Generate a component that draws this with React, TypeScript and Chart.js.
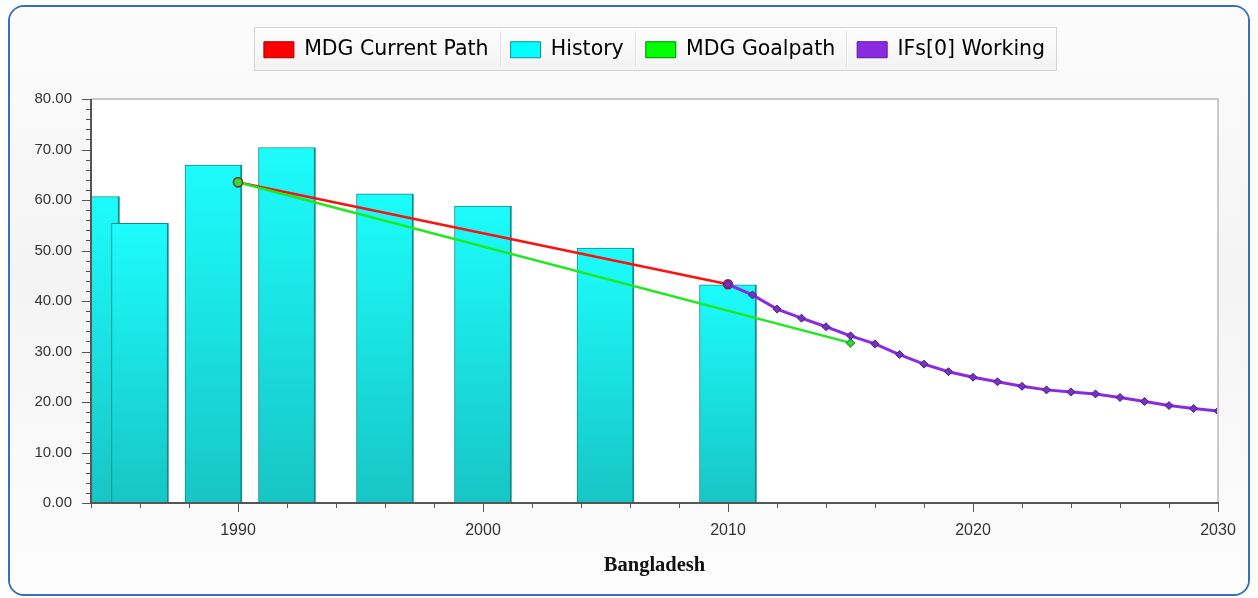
import React, { useEffect, useRef } from 'react';
import { Chart, registerables } from 'chart.js';

Chart.register(...registerables);

// ---- Data ----
const seriesLabels = ['MDG Current Path', 'History', 'MDG Goalpath', 'IFs[0] Working'];

const historyYears = [1984, 1986, 1989, 1992, 1996, 2000, 2005, 2010];
const historyValues = [60.7, 55.4, 66.9, 70.4, 61.2, 58.8, 50.5, 43.2];

const currentPathYears = [1990, 2010];
const currentPathValues = [63.5, 43.3];

const goalPathYears = [1990, 2015];
const goalPathValues = [63.5, 31.7];

const workingYears = [
  2010, 2011, 2012, 2013, 2014, 2015, 2016, 2017, 2018, 2019, 2020,
  2021, 2022, 2023, 2024, 2025, 2026, 2027, 2028, 2029, 2030,
];
const workingValues = [
  43.3, 41.2, 38.4, 36.6, 34.9, 33.1, 31.5, 29.4, 27.5, 26.0, 24.9,
  24.0, 23.1, 22.4, 22.0, 21.6, 20.9, 20.1, 19.3, 18.7, 18.2,
];

const xMin = 1984;
const xMax = 2030;
const xMajorTicks = [1990, 2000, 2010, 2020, 2030];
const xMinorStep = 2;
const yMin = 0;
const yMax = 80;
const yMajorStep = 10;
const yMinorStep = 2;
const xAxisTitle = 'Bangladesh';

// ---- Styles ----
const legendFill = ['#ff0000', '#00ffff', '#00ff00', '#8a2be2'];
const legendStroke = ['#a00000', '#109090', '#008a00', '#5a1a9a'];
const FONT_SANS = '"DejaVu Sans", Verdana, sans-serif';
const FONT_TICK = '"Liberation Sans", Arial, sans-serif';

const toPoints = (xs: number[], ys: number[]) => xs.map((x, i) => ({ x, y: ys[i] }));

const barGradient = (c: any) => {
  const chart = c.chart;
  const area = chart.chartArea;
  if (!area || !c.parsed) return '#1ae6e6';
  const yTop = chart.scales.y.getPixelForValue(c.parsed.y);
  const g = chart.ctx.createLinearGradient(0, yTop, 0, area.bottom);
  g.addColorStop(0, '#1cfcfc');
  g.addColorStop(1, '#18c5c5');
  return g;
};

const decorPlugin = {
  id: 'decor',
  beforeLayout(chart: any) {
    const lg = chart.legend;
    if (lg && !lg.__patched) {
      const orig = lg.fit;
      lg.fit = function () {
        orig.call(this);
        this.height = 81.5;
      };
      lg.__patched = true;
    }
  },
  beforeDraw(chart: any) {
    const { ctx, width, height, chartArea: a } = chart;
    ctx.save();
    const bg = ctx.createLinearGradient(0, 0, 0, height);
    bg.addColorStop(0, '#fcfcfc');
    bg.addColorStop(0.45, '#f4f4f4');
    bg.addColorStop(1, '#fdfdfd');
    ctx.fillStyle = bg;
    ctx.fillRect(0, 0, width, height);
    ctx.fillStyle = '#ffffff';
    ctx.fillRect(a.left, a.top, a.right - a.left, a.bottom - a.top);

    const hb = chart.legend && chart.legend.legendHitBoxes;
    if (hb && hb.length) {
      const first = hb[0];
      const last = hb[hb.length - 1];
      const l = Math.round(first.left - 9.5) + 0.5;
      const r = Math.round(last.left + last.width + 11) + 0.5;
      const t = Math.round(first.top - 12.5) + 0.5;
      const b = Math.round(first.top + first.height + 10) + 0.5;
      const lgBg = ctx.createLinearGradient(0, t, 0, b);
      lgBg.addColorStop(0, '#fdfdfd');
      lgBg.addColorStop(1, '#f3f3f3');
      ctx.fillStyle = lgBg;
      ctx.fillRect(l, t, r - l, b - t);
      ctx.strokeStyle = '#d4d4d4';
      ctx.lineWidth = 1;
      ctx.strokeRect(l, t, r - l, b - t);
      for (let i = 0; i < hb.length - 1; i++) {
        const x = Math.round((hb[i].left + hb[i].width + hb[i + 1].left) / 2) + 0.5;
        ctx.strokeStyle = '#e0e0e0';
        ctx.beginPath();
        ctx.moveTo(x, t + 4);
        ctx.lineTo(x, b - 4);
        ctx.stroke();
        ctx.strokeStyle = '#ffffff';
        ctx.beginPath();
        ctx.moveTo(x + 1, t + 4);
        ctx.lineTo(x + 1, b - 4);
        ctx.stroke();
      }
    }
    ctx.restore();
  },
  afterDatasetsDraw(chart: any) {
    const { ctx, chartArea: a, scales } = chart;
    const xs = scales.x;
    const ys = scales.y;
    ctx.save();
    // plot frame (top / right)
    ctx.strokeStyle = '#c8c8c8';
    ctx.lineWidth = 2;
    ctx.beginPath();
    ctx.moveTo(a.left, a.top);
    ctx.lineTo(a.right, a.top);
    ctx.lineTo(a.right, a.bottom);
    ctx.stroke();
    // axes
    ctx.strokeStyle = '#555555';
    ctx.lineWidth = 2;
    ctx.beginPath();
    ctx.moveTo(a.left, a.top);
    ctx.lineTo(a.left, a.bottom);
    ctx.lineTo(a.right + 1, a.bottom);
    ctx.stroke();
    // tick marks
    ctx.lineWidth = 1;
    ctx.strokeStyle = '#555555';
    ctx.beginPath();
    for (let v = yMin; v <= yMax; v += yMinorStep) {
      const y = Math.round(ys.getPixelForValue(v)) + 0.5;
      const len = v % yMajorStep === 0 ? 9 : 5;
      ctx.moveTo(a.left - len, y);
      ctx.lineTo(a.left, y);
    }
    for (let v = xMin; v <= xMax; v += xMinorStep) {
      const x = Math.round(xs.getPixelForValue(v)) + 0.5;
      const len = xMajorTicks.includes(v) ? 9 : 5;
      ctx.moveTo(x, a.bottom);
      ctx.lineTo(x, a.bottom + len);
    }
    ctx.stroke();
    ctx.restore();
  },
};

export default function App() {
  const ref = useRef<HTMLCanvasElement | null>(null);

  useEffect(() => {
    if (!ref.current) return;
    const chart = new Chart(ref.current, {
      type: 'bar',
      data: {
        datasets: [
          {
            type: 'line',
            label: seriesLabels[0],
            data: toPoints(currentPathYears, currentPathValues),
            borderColor: '#ff1010',
            borderWidth: 2.5,
            pointStyle: 'circle',
            pointRadius: 4.5,
            pointBackgroundColor: '#cc3366',
            pointBorderColor: '#7a2a4a',
            pointBorderWidth: 1.5,
            tension: 0,
            order: 3,
          } as any,
          {
            type: 'bar',
            label: seriesLabels[1],
            data: toPoints(historyYears, historyValues),
            backgroundColor: barGradient,
            borderColor: '#148c8c',
            borderWidth: { top: 1, left: 1, right: 2, bottom: 0 },
            borderSkipped: false,
            barThickness: 57,
            order: 4,
          } as any,
          {
            type: 'line',
            label: seriesLabels[2],
            data: toPoints(goalPathYears, goalPathValues),
            borderColor: '#1ee81e',
            borderWidth: 2.5,
            pointStyle: (c: any) => (c.dataIndex === 0 ? 'circle' : 'rectRot'),
            pointRadius: (c: any) => (c.dataIndex === 0 ? 4.5 : 4),
            pointBackgroundColor: '#3ad83a',
            pointBorderColor: (c: any) => (c.dataIndex === 0 ? '#5a4a1a' : '#2aa82a'),
            pointBorderWidth: 1.5,
            tension: 0,
            order: 2,
          } as any,
          {
            type: 'line',
            label: seriesLabels[3],
            data: toPoints(workingYears, workingValues),
            borderColor: '#8a2be2',
            borderWidth: 3,
            pointStyle: 'rectRot',
            pointRadius: 4,
            pointBackgroundColor: '#7434c0',
            pointBorderColor: '#4a1a88',
            pointBorderWidth: 1,
            tension: 0,
            order: 1,
          } as any,
        ],
      },
      options: {
        responsive: false,
        animation: false,
        events: [],
        layout: { padding: { top: 10.5, left: 0, right: 30, bottom: 0 } },
        scales: {
          x: {
            type: 'linear',
            min: xMin,
            max: xMax,
            offset: false,
            grid: { display: false, drawTicks: false },
            border: { display: false },
            ticks: {
              stepSize: xMinorStep,
              autoSkip: false,
              maxRotation: 0,
              minRotation: 0,
              padding: 18,
              color: '#333333',
              font: { family: FONT_TICK, size: 16 },
              callback: (v: any) => (xMajorTicks.includes(Number(v)) ? String(v) : ''),
            },
            title: {
              display: true,
              text: xAxisTitle,
              color: '#111111',
              font: { family: '"Liberation Serif", "Times New Roman", serif', size: 20.5, weight: 'bold' },
              padding: { top: 0, bottom: 16 },
            },
            afterFit: (s: any) => {
              s.height = 91;
              s.paddingRight = 0;
              s.paddingLeft = 0;
            },
          } as any,
          y: {
            type: 'linear',
            min: yMin,
            max: yMax,
            grid: { display: false, drawTicks: false },
            border: { display: false },
            ticks: {
              stepSize: yMajorStep,
              padding: 19,
              color: '#333333',
              font: { family: FONT_TICK, size: 15 },
              callback: (v: any) => Number(v).toFixed(2),
            },
            afterFit: (s: any) => {
              s.width = 81;
            },
          } as any,
        },
        plugins: {
          tooltip: { enabled: false },
          legend: {
            display: true,
            position: 'top',
            fullSize: false,
            labels: {
              boxWidth: 30,
              boxHeight: 16,
              padding: 22,
              color: '#3a3a3a',
              font: { family: FONT_SANS, size: 20.5 },
              generateLabels: (ch: any) =>
                ch.data.datasets.map((ds: any, i: number) => ({
                  text: ds.label,
                  fillStyle: legendFill[i],
                  strokeStyle: legendStroke[i],
                  lineWidth: 1,
                  hidden: false,
                  datasetIndex: i,
                })),
            },
          } as any,
        },
      },
      plugins: [decorPlugin as any],
    });
    return () => chart.destroy();
  }, []);

  return (
    <div
      style={{
        position: 'absolute',
        left: 8,
        top: 5,
        width: 1242,
        height: 591,
        boxSizing: 'border-box',
        border: '2px solid #3470c0',
        borderRadius: 16,
        overflow: 'hidden',
        background: '#f8f8f8',
      }}
    >
      <canvas ref={ref} width={1238} height={587} style={{ display: 'block', width: 1238, height: 587 }} />
    </div>
  );
}
